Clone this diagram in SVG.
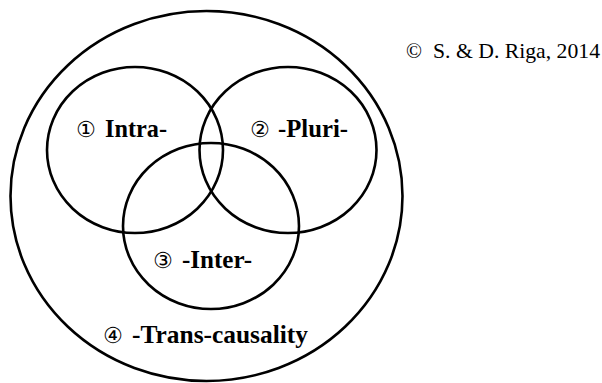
<svg xmlns="http://www.w3.org/2000/svg" width="602" height="383" viewBox="0 0 602 383">
  <style>
    .c { fill: none; stroke: #000; stroke-width: 2.6; }
    .num { font-family: 'DejaVu Sans', sans-serif; font-size: 22px; fill: #000; }
  </style>
  <rect width="602" height="383" fill="#fff"/>
  <g id="trans">
    <ellipse class="c" cx="206.5" cy="196" rx="196" ry="185"/>
    <text class="num" x="103" y="343">④</text>
    <text x="132" y="343" font-family="Liberation Serif, Times New Roman, serif" font-weight="bold" font-size="25" textLength="176" lengthAdjust="spacingAndGlyphs">-Trans-causality</text>
  </g>
  <g id="intra">
    <ellipse class="c" cx="135" cy="150" rx="88" ry="83"/>
    <text class="num" x="76" y="137">①</text>
    <text x="105" y="137" font-family="Liberation Serif, Times New Roman, serif" font-weight="bold" font-size="25" textLength="62" lengthAdjust="spacingAndGlyphs">Intra-</text>
  </g>
  <g id="pluri">
    <ellipse class="c" cx="288" cy="150" rx="88.5" ry="83"/>
    <text class="num" x="250" y="137">②</text>
    <text x="278" y="137" font-family="Liberation Serif, Times New Roman, serif" font-weight="bold" font-size="25" textLength="70" lengthAdjust="spacingAndGlyphs">-Pluri-</text>
  </g>
  <g id="inter">
    <ellipse class="c" cx="211" cy="226" rx="88" ry="83"/>
    <text class="num" x="153" y="268">③</text>
    <text x="182" y="268" font-family="Liberation Serif, Times New Roman, serif" font-weight="bold" font-size="25" textLength="70" lengthAdjust="spacingAndGlyphs">-Inter-</text>
  </g>
  <g id="copyright">
    <text x="406" y="58" font-family="Liberation Serif, Times New Roman, serif" font-size="21">©</text>
    <text x="433" y="58" font-family="Liberation Serif, Times New Roman, serif" font-size="21" textLength="167" lengthAdjust="spacingAndGlyphs">S. &amp; D. Riga, 2014</text>
  </g>
</svg>
